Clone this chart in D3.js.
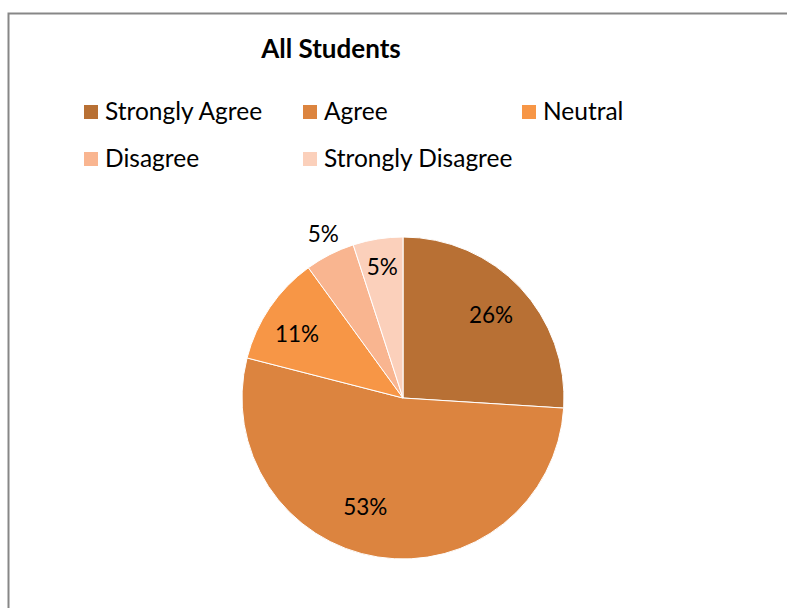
<!DOCTYPE html>
<html>
<head>
<meta charset="utf-8">
<script src="https://cdn.jsdelivr.net/npm/d3@7"></script>
<style>
  body { margin: 0; background: #fff; }
  svg { display: block; font-family: Lato, "Open Sans", sans-serif; }
</style>
</head>
<body>
<svg width="787" height="608"></svg>
<script>
var categories = ["Strongly Agree", "Agree", "Neutral", "Disagree", "Strongly Disagree"];
var shares = [26, 53, 11, 5, 5];
var labels = ["26%", "53%", "11%", "5%", "5%"];
var colors = ["#b87034", "#dc843f", "#f79646", "#f9b590", "#fbd0bb"];

var svg = d3.select("svg");

// chart frame (only top/left edges visible in the crop)
svg.append("path")
    .attr("d", "M8.5,608V13.5H787")
    .attr("fill", "none")
    .attr("stroke", "#878787")
    .attr("stroke-width", 2);

svg.append("text")
    .attr("x", 331)
    .attr("y", 58)
    .attr("text-anchor", "middle")
    .attr("font-weight", "bold")
    .attr("font-size", 26)
    .attr("fill", "#000")
    .text("All Students");

var color = d3.scaleOrdinal().domain(categories).range(colors);

// legend: 3 columns, 2 rows
var legendX = [84, 303, 522];
var legendY = [112, 159];
var legend = svg.append("g").attr("class", "legend");
var item = legend.selectAll("g")
    .data(categories)
    .enter().append("g")
    .attr("transform", function(d, i) {
        return "translate(" + legendX[i % 3] + "," + legendY[Math.floor(i / 3)] + ")";
    });
item.append("rect")
    .attr("x", 0).attr("y", -7)
    .attr("width", 14).attr("height", 14)
    .attr("fill", function(d) { return color(d); });
item.append("text")
    .attr("x", 21).attr("y", 8)
    .attr("font-size", 24.5)
    .attr("fill", "#000")
    .text(function(d) { return d; });

// pie
var cx = 403, cy = 398, r = 161;
var pie = d3.pie().sort(null).value(function(d) { return d; });
var arcs = pie(shares);
var arc = d3.arc().innerRadius(0).outerRadius(r);

var g = svg.append("g").attr("transform", "translate(" + cx + "," + cy + ")");
g.selectAll("path")
    .data(arcs)
    .enter().append("path")
    .attr("d", arc)
    .attr("fill", function(d, i) { return colors[i]; })
    .attr("stroke", "#fff")
    .attr("stroke-width", 1);

// label placement: radius factor and small angle nudge (degrees) per slice
var labelR = [0.75, 0.72, 0.77, 1.13, 0.82];
var labelNudge = [0, 10, -3, 1, 0];
g.selectAll("text")
    .data(arcs)
    .enter().append("text")
    .attr("transform", function(d, i) {
        var a = (d.startAngle + d.endAngle) / 2 + labelNudge[i] * Math.PI / 180;
        var rr = r * labelR[i];
        return "translate(" + (Math.sin(a) * rr) + "," + (-Math.cos(a) * rr) + ")";
    })
    .attr("text-anchor", "middle")
    .attr("dy", "0.35em")
    .attr("font-size", 22.5)
    .attr("fill", "#000")
    .text(function(d, i) { return labels[i]; });
</script>
</body>
</html>
